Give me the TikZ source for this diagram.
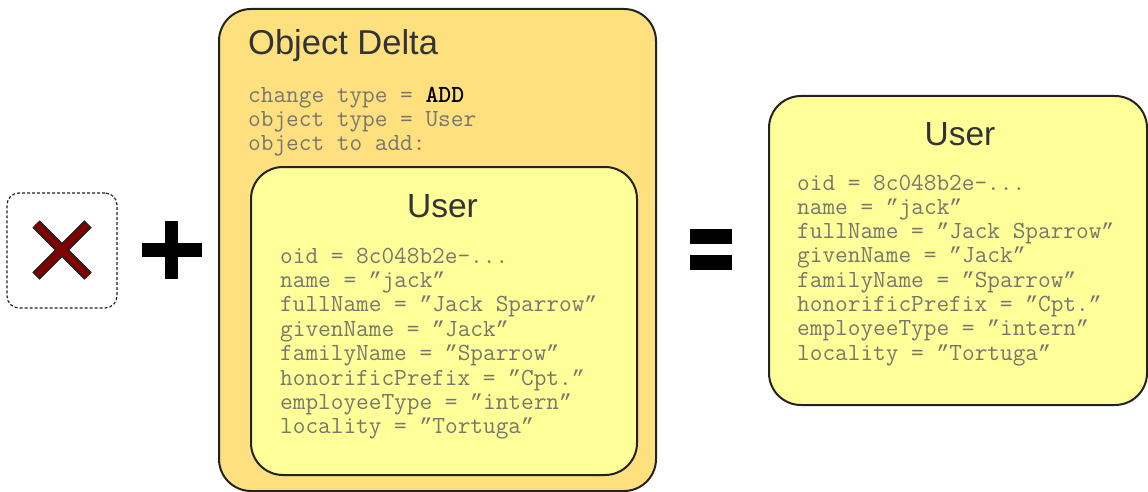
\documentclass[tikz,border=0pt]{standalone}
\usepackage{fontspec}
\setmainfont{Liberation Sans}
\newfontfamily\quotefont{Liberation Mono}
\usetikzlibrary{positioning}
\definecolor{cdelta}{HTML}{FFE07F}
\definecolor{cuser}{HTML}{FFFF99}
\definecolor{cline}{HTML}{222222}
\definecolor{ctext}{HTML}{77776E}
\definecolor{chead}{HTML}{333333}
\definecolor{cxred}{HTML}{800000}
\tikzset{
  every picture/.style={x=1pt, y=-1pt},
  panel/.style={draw=cline, fill=#1, line width=2pt, rounded corners=32pt, anchor=north west, inner sep=0pt},
  panel/.default=cuser,
  bar/.style={fill=black, inner sep=0pt},
  head/.style={font=\fontsize{33.5}{38}\selectfont, text=chead, inner sep=0pt},
  attr/.style={font=\ttfamily\fontsize{24.6}{24}\selectfont, text=ctext, anchor=base west, inner sep=0pt},
}
\newcommand{\oidval}{oid = 8c048b2e-...}
\newcommand{\dq}{\makebox[12.9pt][c]{\quotefont\fontsize{21.5}{24}\selectfont ”}}
\begin{document}
\begin{tikzpicture}
  \useasboundingbox (0,0) rectangle (1148,492);
  % ---- nothing ----
  \node[draw=cline, dash pattern=on 3pt off 2pt, line width=1.2pt, rounded corners=12pt, minimum width=110, minimum height=115, inner sep=0pt] (empty) at (62,250.5) {};
  \coordinate (xa) at (36,224);
  \coordinate (xb) at (88,276);
  \coordinate (xc) at (88,224);
  \coordinate (xd) at (36,276);
  \draw[cline, line width=10.5pt] (xa) -- (xb) (xc) -- (xd);
  \draw[cxred, line width=7pt, shorten <=1.5pt, shorten >=1.5pt] (xa) -- (xb) (xc) -- (xd);
  % ---- plus ----
  \node[bar, minimum width=60, minimum height=14] (plush) at (172,250) {};
  \node[bar, minimum width=13, minimum height=58] (plusv) at (171.5,250) {};
  % ---- object delta ----
  \node[panel=cdelta, minimum width=437, minimum height=482] (delta) at (218,8) {};
  \node[head, anchor=base west, font=\fontsize{34.5}{38}\selectfont] (dtitle) at (248,55) {Object Delta};
  \foreach \t [count=\i from 0] in {change type = {\bfseries\color{black}ADD}, object type = User, object to add:}
    \node[attr] (dl\i) at (248,103+\i*23.5) {\t};
  \node[panel, minimum width=386, minimum height=308] (inuser) at (250,166) {};
  \node[head, anchor=base] (intitle) at (442.5,217) {User};
  \foreach \t [count=\i from 0] in {\oidval, name = \dq{}jack\dq, fullName = \dq{}Jack Sparrow\dq, givenName = \dq{}Jack\dq, familyName = \dq{}Sparrow\dq, honorificPrefix = \dq{}Cpt.\dq, employeeType = \dq{}intern\dq, locality = \dq{}Tortuga\dq}
    \node[attr] (il\i) at (280,263+\i*24.4) {\t};
  % ---- equals ----
  \node[bar, minimum width=42, minimum height=15] (eqa) at (711,236.5) {};
  \node[bar, minimum width=42, minimum height=15] (eqb) at (711,262.5) {};
  % ---- result ----
  \node[panel, minimum width=378, minimum height=309] (outuser) at (768,95) {};
  \node[head, anchor=base] (outtitle) at (960,146) {User};
  \foreach \t [count=\i from 0] in {\oidval, name = \dq{}jack\dq, fullName = \dq{}Jack Sparrow\dq, givenName = \dq{}Jack\dq, familyName = \dq{}Sparrow\dq, honorificPrefix = \dq{}Cpt.\dq, employeeType = \dq{}intern\dq, locality = \dq{}Tortuga\dq}
    \node[attr] (ol\i) at (797,190+\i*24.3) {\t};
\end{tikzpicture}
\end{document}
